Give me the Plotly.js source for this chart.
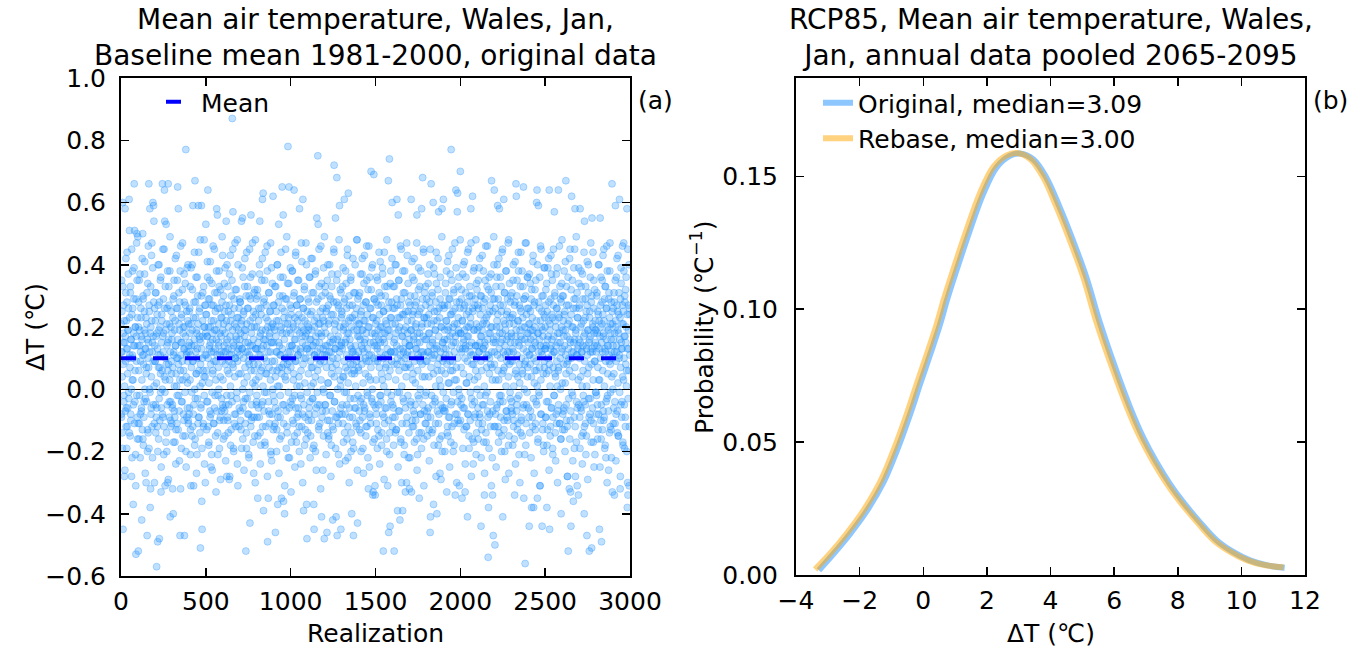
<!DOCTYPE html>
<html><head><meta charset="utf-8">
<script src="https://cdn.plot.ly/plotly-3.0.1.min.js"></script>
<style>html,body{margin:0;padding:0;background:#fff;overflow:hidden;} #chart{width:1365px;height:648px;}</style>
</head><body><div id="chart"></div>
<script>
// ---- Panel (a): temperature anomaly per realization ----
// even-numbered realizations (0, 2, 4, ...)
const anomalyEvenRealizations = [
0.21,-0.08,0.35,0.12,-0.14,0.60,-0.45,0.18,0.27,-0.02,-0.28,0.15,0.58,-0.07,0.31,-0.12,0.22,-0.19,0.44,0.13,-0.06,0.19,0.26,-0.03,0.61,0.51,0.11,-0.15,0.33,-0.10,0.16,-0.28,0.24,0.03,0.38,0.10,-0.37,0.14,0.29,0.66,0.51,-0.04,0.20,-0.21,-0.53,0.17,0.47,0.50,-0.09,0.23,
0.14,-0.52,0.28,-0.16,-0.11,0.19,0.37,-0.08,0.12,0.23,-0.07,-0.42,0.16,-0.13,0.50,0.30,-0.18,0.11,-0.04,0.25,0.41,0.13,-0.03,0.18,-0.30,0.07,0.21,-0.47,-0.20,0.34,-0.14,0.15,0.66,0.27,0.00,0.58,-0.38,-0.32,0.20,-0.06,0.43,0.47,0.12,-0.22,0.60,0.17,0.59,0.54,-0.11,0.26,
0.09,0.22,-0.05,0.31,-0.09,-0.57,0.18,-0.12,-0.49,0.27,0.11,-0.16,0.40,-0.48,0.07,0.20,0.35,-0.01,-0.33,-0.06,0.24,0.06,0.66,0.17,-0.09,0.29,-0.21,0.45,0.64,0.54,-0.31,0.03,0.19,0.53,-0.14,-0.20,0.26,-0.30,0.15,0.66,0.08,0.33,-0.04,0.21,0.38,-0.41,-0.10,-0.12,0.25,0.05,
0.16,-0.06,-0.32,0.23,-0.40,0.11,0.30,-0.07,0.19,-0.17,0.42,0.14,-0.13,0.26,0.01,-0.11,0.35,0.65,0.10,0.58,-0.02,0.21,-0.23,0.28,-0.47,0.06,0.46,0.15,-0.19,0.24,-0.04,0.32,0.03,0.18,-0.08,0.13,0.37,-0.47,0.20,-0.15,0.27,0.77,-0.25,0.11,-0.09,0.39,0.02,0.22,-0.10,0.14,
0.12,0.25,-0.06,0.18,0.33,-0.13,-0.31,0.21,0.14,-0.15,0.40,0.09,0.59,-0.08,-0.31,0.28,0.16,-0.18,0.67,-0.03,0.23,0.36,0.05,0.19,-0.21,0.13,0.30,-0.11,0.59,0.44,-0.09,0.17,0.26,0.01,-0.51,0.15,-0.05,0.59,-0.36,-0.45,0.10,0.31,0.06,-0.12,0.20,0.48,-0.24,0.27,0.04,0.18,
0.53,0.11,0.24,-0.04,0.17,0.36,0.64,-0.12,0.20,-0.17,0.13,0.29,-0.07,0.41,0.15,-0.08,0.22,-0.21,0.34,-0.26,0.18,0.06,0.27,0.12,-0.11,0.45,0.19,-0.02,0.25,0.09,-0.33,0.16,0.58,0.31,0.56,-0.14,-0.02,0.21,0.14,0.38,-0.19,0.26,0.11,-0.09,0.32,0.17,-0.07,0.23,0.49,-0.05,
0.19,-0.06,0.30,-0.10,0.14,0.25,-0.15,0.39,0.12,-0.05,0.54,0.22,-0.28,0.16,-0.09,0.33,-0.14,0.20,0.05,-0.29,0.27,0.11,0.43,-0.18,-0.02,0.24,0.13,0.35,0.87,0.08,0.57,0.15,-0.20,0.29,-0.11,0.21,0.47,0.10,-0.08,0.17,0.32,-0.03,0.23,-0.24,0.12,0.40,0.19,-0.12,0.26,0.14,
0.11,0.28,-0.07,0.18,-0.13,0.54,0.22,0.13,0.55,-0.16,0.36,-0.04,0.25,0.02,0.19,0.42,-0.11,0.15,-0.52,0.30,-0.19,0.21,-0.03,0.33,0.12,0.26,-0.08,-0.22,0.08,0.45,-0.43,0.14,0.29,0.56,-0.10,0.20,-0.09,0.37,0.10,0.23,0.16,-0.27,0.31,0.06,-0.15,0.01,0.48,0.24,0.13,-0.05,
0.20,-0.09,0.32,-0.35,0.15,-0.06,0.26,0.11,0.40,0.54,-0.14,0.18,-0.18,0.24,0.13,0.35,0.07,0.61,-0.04,0.63,-0.39,0.16,0.29,-0.01,-0.17,0.44,0.19,-0.12,0.27,0.05,0.14,0.38,-0.49,0.22,-0.35,-0.07,0.31,0.17,-0.08,0.25,0.12,0.47,-0.21,0.20,-0.23,0.15,0.34,0.06,0.62,-0.02,
0.15,0.27,-0.04,0.19,-0.11,-0.46,0.33,0.12,0.22,-0.13,0.06,0.40,-0.37,-0.07,0.28,0.53,0.01,0.14,-0.16,-0.09,0.36,0.11,0.20,-0.35,0.07,0.65,0.18,0.30,0.56,-0.36,-0.05,0.25,-0.40,0.04,0.21,0.45,0.10,-0.19,0.29,-0.12,0.08,0.34,0.78,-0.22,0.23,0.65,-0.06,0.19,0.12,0.39,
0.18,-0.33,0.26,-0.05,0.14,0.38,-0.10,0.21,0.03,0.30,0.64,-0.15,-0.02,0.23,0.16,0.44,0.09,-0.17,0.27,-0.09,0.19,0.35,0.11,-0.06,0.24,-0.12,0.58,0.01,0.29,0.13,-0.24,0.20,-0.03,0.41,0.17,-0.08,0.61,0.26,-0.39,0.10,0.32,-0.18,0.22,-0.13,0.14,0.47,0.18,-0.37,-0.48,0.25,
0.13,0.29,-0.10,0.20,-0.08,0.36,0.16,-0.04,0.24,-0.15,0.42,0.07,0.19,0.31,-0.03,0.14,-0.19,0.02,-0.37,-0.45,0.22,0.11,0.37,-0.20,0.17,-0.06,0.28,0.55,0.12,-0.05,0.75,0.53,0.21,-0.13,0.33,0.15,-0.11,0.25,0.09,0.46,0.18,-0.41,0.30,-0.07,0.23,-0.26,0.13,0.39,-0.01,-0.48,
0.20,-0.05,0.31,0.14,-0.07,0.25,0.11,-0.46,0.35,-0.14,0.02,0.27,-0.16,0.22,-0.10,0.40,0.15,-0.02,0.29,0.12,-0.18,0.33,0.07,-0.12,-0.42,0.24,0.16,0.45,0.72,-0.04,0.21,0.13,0.55,-0.09,-0.41,0.28,0.68,-0.47,0.10,0.37,0.17,-0.21,0.26,-0.08,0.59,0.14,0.32,0.01,-0.45,0.23,
0.15,0.24,-0.05,0.33,-0.11,0.19,0.04,0.28,0.61,-0.14,0.21,-0.08,0.38,0.16,-0.01,0.26,-0.16,0.43,0.06,-0.22,0.63,0.18,0.30,-0.06,-0.09,0.23,0.14,0.35,-0.20,0.20,-0.40,0.12,0.27,-0.17,0.08,-0.47,0.31,-0.03,0.05,0.24,0.40,0.11,-0.06,0.22,-0.12,0.48,0.19,-0.43,0.29,0.07,
0.12,0.30,-0.07,0.21,-0.10,0.16,0.37,-0.14,0.25,-0.03,0.19,0.42,0.13,-0.19,0.27,-0.05,0.34,0.15,-0.07,0.22,0.10,0.28,-0.12,0.18,0.46,-0.12,0.24,-0.02,0.32,-0.32,0.09,0.20,-0.25,0.36,-0.09,0.03,0.26,0.70,0.11,0.39,-0.04,0.23,-0.34,-0.33,0.15,0.69,0.29,-0.16,0.18,-0.34,
0.17,-0.06,0.28,-0.08,0.22,0.13,0.35,-0.13,0.19,0.10,-0.15,0.31,0.24,-0.02,0.41,0.15,-0.04,0.27,-0.18,0.20,0.03,0.37,0.16,-0.52,0.25,-0.09,0.44,-0.11,0.18,0.30,0.07,0.21,-0.06,-0.20,0.33,0.11,-0.31,0.26,0.67,-0.46,0.19,0.74,-0.14,-0.44,0.23,0.38,0.12,-0.02,0.28,0.60,
0.21,-0.09,0.33,-0.06,0.15,-0.52,0.26,0.12,0.40,-0.14,0.18,-0.13,0.29,0.61,0.08,-0.39,0.23,0.56,-0.07,0.35,-0.01,0.20,-0.42,0.11,0.27,-0.17,0.45,-0.30,0.17,0.24,-0.39,0.13,0.31,-0.04,0.19,-0.18,0.38,0.10,-0.33,0.25,0.07,-0.11,0.47,-0.09,0.22,0.12,0.34,-0.22,0.28,0.14,
-0.32,0.14,0.27,-0.05,0.19,0.61,-0.33,0.22,-0.10,0.36,0.03,0.25,-0.12,0.17,0.42,-0.08,0.30,-0.05,0.20,0.13,0.28,-0.16,0.56,0.15,-0.21,0.24,0.11,0.39,-0.03,-0.35,0.18,0.33,0.09,-0.08,0.26,-0.14,0.58,0.21,0.04,0.68,0.12,0.45,-0.16,0.23,-0.07,0.31,0.16,-0.02,0.27,-0.11,
0.16,0.29,-0.07,0.21,-0.09,0.34,0.12,0.24,-0.13,0.18,0.40,-0.46,-0.41,0.26,0.66,0.11,-0.14,0.30,0.15,-0.05,0.60,-0.37,0.22,0.13,0.37,-0.03,0.19,-0.11,0.28,0.44,0.14,-0.40,0.25,0.06,0.32,-0.18,0.57,-0.08,0.10,0.23,-0.27,0.36,0.01,-0.29,0.20,-0.15,0.58,0.27,-0.06,0.15,
0.61,0.13,0.26,-0.06,0.19,-0.07,0.31,0.11,0.22,0.38,-0.33,0.16,-0.12,0.27,-0.15,0.20,0.43,0.02,-0.09,0.29,0.09,0.24,-0.17,0.77,-0.04,0.35,0.18,0.06,0.25,-0.20,0.15,0.32,-0.11,0.21,0.47,-0.34,0.17,0.64,0.03,0.28,-0.08,0.57,0.63,-0.10,0.23,0.19,0.36,-0.31,-0.02,0.26,
0.70,0.18,-0.05,0.29,0.12,-0.35,0.22,0.37,-0.06,0.15,0.26,-0.13,0.41,0.19,-0.33,0.13,0.31,-0.12,0.24,0.02,0.17,-0.41,0.28,-0.08,0.45,0.20,-0.19,0.14,0.33,-0.10,0.23,0.58,0.11,-0.03,0.30,-0.16,0.62,0.25,-0.24,0.08,0.19,0.39,-0.04,0.27,-0.08,0.14,0.48,0.21,-0.14,0.32,
0.14,0.27,-0.06,0.35,-0.11,0.20,0.12,0.42,-0.09,0.24,0.17,-0.44,0.30,-0.13,0.19,-0.05,0.26,0.13,0.38,-0.17,0.22,-0.34,0.15,0.29,-0.02,0.46,-0.17,0.21,0.11,0.33,-0.07,0.24,-0.54,-0.38,0.18,0.36,0.10,-0.08,0.27,-0.12,0.20,0.31,0.67,0.07,-0.22,-0.34,0.25,-0.47,0.16,0.40,
0.64,0.12,-0.50,0.26,-0.08,0.33,0.17,-0.06,0.22,0.40,0.59,-0.12,0.29,0.03,-0.14,0.58,0.20,-0.04,0.36,0.15,-0.02,0.25,-0.15,0.44,0.18,-0.41,0.27,0.06,0.61,-0.10,0.31,-0.20,0.21,0.11,0.38,-0.07,0.24,0.16,-0.09,0.29,0.12,0.47,-0.18,-0.27,0.08,0.34,0.23,-0.03,0.15,0.30,
0.18,-0.07,0.31,0.13,-0.08,0.24,0.40,-0.12,0.21,-0.16,-0.34,0.28,0.05,0.17,0.66,0.62,-0.05,0.35,-0.03,0.22,-0.11,0.44,0.15,-0.21,0.27,0.02,0.19,0.33,-0.14,0.25,-0.10,0.16,0.38,0.06,0.23,-0.06,0.65,-0.35,0.29,0.08,0.20,-0.56,0.30,-0.18,0.47,-0.05,0.18,0.26,0.04,0.36,
0.15,0.26,-0.09,-0.44,0.21,0.11,0.34,-0.07,0.19,0.29,-0.38,0.13,0.23,-0.12,0.41,0.17,-0.38,0.27,0.02,0.20,0.32,-0.13,0.14,-0.04,0.06,0.60,0.64,-0.35,0.18,-0.16,0.59,0.28,-0.02,0.16,0.36,-0.31,0.22,-0.08,0.45,0.12,0.25,-0.44,0.19,-0.11,0.30,-0.18,0.14,0.39,0.07,0.23,
0.20,-0.09,0.32,0.14,-0.04,-0.38,0.25,-0.13,0.39,0.17,0.06,0.28,0.64,-0.45,0.21,-0.15,0.13,0.43,-0.06,0.24,0.16,0.35,-0.19,-0.09,0.27,0.12,-0.02,0.57,0.30,0.05,0.22,-0.23,0.14,0.37,-0.11,0.26,0.01,0.18,-0.07,0.64,0.07,0.23,0.46,-0.11,0.15,0.29,-0.16,-0.40,0.20,0.34,
0.13,0.30,-0.08,0.22,-0.07,0.17,0.38,-0.13,0.25,0.02,0.19,0.67,-0.05,0.33,0.08,-0.12,-0.28,0.21,-0.52,0.27,0.10,-0.32,0.42,0.16,-0.10,-0.33,-0.44,0.24,0.62,0.12,0.35,-0.02,0.20,-0.36,0.15,0.29,-0.19,0.45,0.58,-0.28,0.18,0.26,-0.17,0.11,0.31,-0.06,0.23,0.14,-0.34,0.39,
0.16,0.27,-0.09,0.58,0.20,-0.06,0.33,0.12,-0.15,0.01,0.37,0.14,-0.14,0.22,-0.04,-0.40,0.54,0.18,0.29,-0.11,-0.21,0.25,0.13,-0.47,0.41,0.05,0.19,0.31,-0.03,0.15,-0.52,0.23,-0.08,0.36,0.17,-0.10,0.28,-0.51,0.55,0.12,0.21,0.44,-0.17,0.26,-0.25,0.14,0.32,0.09,0.19,-0.01,
0.19,-0.08,0.30,0.14,-0.05,0.25,-0.13,0.40,0.03,0.22,-0.45,0.17,0.55,0.27,-0.10,-0.16,-0.49,0.21,0.35,0.12,0.24,-0.07,0.18,0.45,-0.09,0.29,0.13,-0.18,0.33,-0.22,0.16,0.26,-0.03,0.38,-0.02,0.20,0.14,-0.26,0.31,0.09,0.23,0.47,-0.12,0.18,-0.13,0.28,0.12,0.66,-0.33,0.21,
0.14,0.26,-0.06,0.31,-0.34,0.18,-0.11,0.59,0.22,-0.08,0.36,0.12,0.27,-0.14,0.19,0.43,-0.15,0.24,0.10,0.61,0.16,-0.32,0.29,-0.05,0.34,0.13,-0.04,0.21,0.46,-0.17,0.25,0.03,0.38,0.17,-0.19,0.28,-0.09,0.32,0.15,0.20,0.06,0.58,-0.38,-0.30,-0.34,0.27,0.13,0.40,-0.12,0.24
];
// odd-numbered realizations (1, 3, 5, ...)
const anomalyOddRealizations = [
0.12,-0.09,0.25,0.04,-0.19,0.33,0.08,0.15,-0.04,0.22,0.01,-0.26,0.17,0.09,0.42,-0.06,0.13,0.28,-0.12,0.05,0.19,0.37,-0.01,0.10,-0.14,0.23,0.07,0.31,-0.08,0.16,0.00,0.45,-0.22,0.11,0.26,0.03,-0.05,0.18,0.39,-0.11,0.14,0.06,0.20,-0.31,0.29,0.09,-0.02,0.35,-0.16,0.49,
-0.11,0.20,0.06,0.35,-0.02,0.14,-0.22,0.09,0.26,0.17,-0.06,0.03,0.42,0.11,-0.16,0.29,0.08,-0.09,0.19,0.37,0.00,-0.27,0.13,0.23,0.05,-0.04,0.31,0.16,-0.13,0.10,0.46,0.07,-0.19,0.25,0.12,-0.01,0.18,0.33,-0.08,0.04,0.22,-0.12,0.15,0.39,0.09,-0.05,0.28,0.01,-0.30,0.14,
0.09,0.31,-0.14,0.17,0.02,-0.06,0.24,0.13,-0.20,0.40,0.07,0.19,-0.03,0.28,-0.10,0.11,0.05,0.36,-0.25,0.15,0.22,0.00,-0.08,0.45,0.12,0.18,-0.12,0.04,0.26,-0.01,0.33,0.10,-0.17,0.08,0.21,0.14,-0.05,0.38,0.06,-0.29,0.16,0.27,-0.09,0.03,0.49,0.12,-0.04,0.20,0.09,-0.11,
0.18,-0.05,0.07,0.29,-0.17,0.12,0.35,0.01,-0.09,0.22,0.14,-0.24,0.05,0.43,0.10,-0.02,0.26,0.16,-0.13,0.08,0.31,-0.07,0.19,0.03,0.38,-0.32,0.11,0.23,-0.04,0.15,0.09,0.47,-0.15,0.20,0.06,-0.10,0.28,0.13,-0.01,0.34,0.17,-0.20,0.04,0.25,0.12,-0.06,0.09,0.40,-0.11,0.21,
-0.08,0.15,0.26,0.03,-0.21,0.11,0.39,0.07,-0.01,0.19,0.32,-0.12,0.09,0.23,-0.05,0.14,0.44,0.00,-0.16,0.28,0.12,0.05,-0.27,0.18,0.36,-0.03,0.10,0.21,-0.09,0.06,0.25,0.16,-0.14,0.48,0.08,-0.06,0.30,0.13,-0.19,0.02,0.22,0.17,-0.11,0.33,0.04,-0.02,0.20,0.11,-0.30,0.27,
0.24,0.06,-0.13,0.17,0.41,-0.04,0.10,0.29,-0.18,0.02,0.14,0.35,-0.09,0.20,0.08,-0.25,0.12,0.27,-0.01,0.16,0.05,0.46,-0.11,0.22,0.09,-0.06,0.31,0.13,-0.15,0.03,0.19,0.38,-0.07,0.11,0.26,-0.21,0.07,0.15,0.00,0.33,-0.10,0.18,0.04,-0.29,0.23,0.12,-0.03,0.28,0.09,0.43,
0.03,-0.16,0.21,0.12,0.34,-0.07,0.18,0.08,-0.23,0.27,0.15,-0.02,0.40,0.06,-0.10,0.13,0.25,-0.05,0.09,0.37,-0.28,0.17,0.01,0.22,-0.13,0.30,0.11,-0.04,0.19,0.45,0.07,-0.19,0.14,0.26,-0.08,0.04,0.32,0.10,-0.12,0.20,0.16,-0.01,0.48,0.09,-0.31,0.23,0.13,0.05,-0.06,0.29,
0.16,0.28,-0.10,0.05,0.21,-0.19,0.13,0.39,0.00,-0.06,0.24,0.10,-0.26,0.17,0.33,0.07,-0.03,0.19,0.12,-0.14,0.44,0.04,0.26,-0.08,0.15,0.09,-0.21,0.30,0.11,-0.01,0.22,0.36,-0.12,0.06,0.18,-0.05,0.14,0.47,0.02,-0.17,0.25,0.08,-0.09,0.20,0.32,-0.30,0.13,0.03,0.29,-0.04,
-0.02,0.13,0.30,-0.15,0.08,0.22,0.04,-0.09,0.37,0.17,-0.24,0.11,0.26,0.06,-0.05,0.19,0.42,-0.12,0.01,0.14,0.28,-0.07,0.10,0.35,-0.18,0.16,0.05,0.23,-0.01,0.09,0.46,-0.28,0.20,0.12,-0.04,0.31,0.07,-0.11,0.18,0.25,0.03,-0.20,0.15,0.39,-0.08,0.09,0.21,0.00,-0.13,0.27,
0.20,-0.12,0.09,0.33,0.04,-0.06,0.17,0.25,-0.20,0.12,0.40,0.01,-0.09,0.22,0.15,-0.27,0.07,0.30,0.11,-0.02,0.19,0.44,-0.15,0.05,0.26,0.13,-0.05,0.36,0.08,-0.11,0.23,0.16,-0.31,0.10,0.29,0.03,-0.07,0.18,0.49,-0.14,0.06,0.21,0.12,-0.01,0.34,0.09,-0.22,0.14,0.27,-0.04,
0.07,0.24,-0.17,0.14,0.38,-0.03,0.10,0.20,-0.11,0.05,0.31,0.16,-0.25,0.09,0.43,-0.06,0.13,0.27,0.01,-0.14,0.22,0.11,-0.08,0.35,0.04,-0.20,0.18,0.29,-0.02,0.12,0.06,0.47,-0.12,0.23,0.15,-0.30,0.08,0.26,-0.05,0.19,0.33,0.02,-0.09,0.17,0.10,-0.16,0.40,0.13,-0.01,0.21,
-0.14,0.19,0.05,0.28,-0.06,0.12,0.36,-0.22,0.09,0.16,0.01,-0.10,0.25,0.42,0.07,-0.03,0.14,0.31,-0.18,0.11,0.20,-0.08,0.04,0.38,0.15,-0.26,0.10,0.23,-0.01,0.06,0.29,0.18,-0.12,0.45,0.08,-0.05,0.21,0.13,-0.32,0.03,0.34,0.17,-0.09,0.11,0.26,0.00,-0.15,0.22,0.09,0.49,
0.11,0.33,-0.05,0.18,-0.21,0.07,0.26,0.14,-0.10,0.40,0.02,0.21,-0.15,0.12,0.30,-0.02,0.09,0.17,-0.28,0.24,0.05,0.37,-0.07,0.15,0.10,-0.13,0.28,0.44,0.04,-0.04,0.19,0.13,-0.19,0.22,0.08,0.35,-0.09,0.16,0.00,0.27,-0.11,0.06,0.48,0.12,-0.24,0.20,0.03,-0.06,0.31,0.14,
0.25,-0.08,0.13,0.04,0.39,-0.17,0.20,0.09,-0.01,0.29,0.15,-0.23,0.07,0.34,0.11,-0.05,0.18,0.45,-0.12,0.02,0.22,0.10,-0.30,0.27,0.16,-0.03,0.08,0.36,-0.14,0.13,0.05,0.23,-0.09,0.42,0.12,-0.19,0.19,0.06,-0.06,0.31,0.14,0.01,-0.11,0.26,0.09,0.48,-0.26,0.17,-0.02,0.21,
0.06,0.17,-0.13,0.31,0.10,-0.04,0.24,-0.20,0.14,0.08,0.37,-0.09,0.19,0.02,-0.27,0.22,0.12,0.43,-0.06,0.16,0.05,-0.15,0.28,0.09,0.35,-0.01,0.13,-0.22,0.20,0.04,0.46,0.11,-0.08,0.26,0.15,-0.11,0.07,0.32,-0.03,0.18,0.00,0.40,-0.17,0.23,0.10,-0.05,0.29,0.14,-0.31,0.09,
0.21,0.03,-0.11,0.36,0.14,-0.19,0.09,0.27,-0.05,0.16,0.44,0.07,-0.24,0.12,0.20,-0.02,0.30,0.05,-0.14,0.18,0.39,-0.08,0.10,0.25,0.01,-0.29,0.15,0.33,-0.06,0.11,0.22,0.08,-0.16,0.48,0.13,-0.01,0.19,0.04,-0.10,0.28,0.17,-0.21,0.06,0.34,0.12,-0.04,0.23,0.09,0.42,-0.12,
-0.05,0.26,0.12,-0.18,0.08,0.33,0.16,-0.09,0.21,0.03,0.40,-0.13,0.14,0.27,-0.01,0.10,-0.25,0.19,0.35,0.06,-0.07,0.23,0.13,0.46,-0.16,0.09,0.29,0.01,-0.11,0.17,0.38,-0.03,0.12,0.24,-0.21,0.07,0.31,0.15,-0.06,0.20,0.04,-0.30,0.11,0.43,0.18,-0.02,0.25,0.08,-0.14,0.16,
0.14,-0.22,0.30,0.07,-0.04,0.19,0.11,0.41,-0.12,0.24,0.05,-0.07,0.16,0.35,-0.17,0.09,0.27,0.02,-0.10,0.21,0.13,0.47,-0.26,0.18,0.06,-0.02,0.32,0.10,-0.14,0.25,0.15,0.00,-0.08,0.38,0.12,-0.19,0.20,0.08,0.29,-0.05,0.17,0.44,-0.31,0.11,0.23,0.04,-0.11,0.33,0.09,-0.01,
0.23,0.09,-0.15,0.12,0.37,-0.06,0.18,0.04,-0.23,0.28,0.14,0.45,-0.09,0.07,0.21,-0.02,0.31,0.16,-0.13,0.10,0.05,0.39,-0.18,0.25,0.11,-0.04,0.19,0.01,-0.28,0.34,0.13,0.22,-0.07,0.08,0.42,-0.11,0.17,0.26,0.03,-0.16,0.29,0.12,-0.05,0.20,0.06,0.49,-0.20,0.15,0.09,-0.01,
0.10,-0.07,0.27,0.16,-0.20,0.05,0.34,0.13,-0.03,0.22,0.08,-0.14,0.41,0.19,0.02,-0.09,0.29,0.11,-0.25,0.17,0.37,0.06,-0.05,0.24,0.14,-0.12,0.45,0.09,0.20,-0.01,0.31,-0.18,0.12,0.03,0.26,-0.08,0.15,0.39,0.07,-0.30,0.21,0.10,-0.04,0.33,0.18,0.00,-0.11,0.28,0.13,0.48,
-0.10,0.18,0.07,0.32,-0.03,0.22,0.13,-0.19,0.40,0.05,0.16,-0.06,0.27,0.10,-0.24,0.14,0.36,0.02,-0.12,0.20,0.09,0.44,-0.08,0.17,0.25,-0.15,0.04,0.30,0.12,-0.01,0.21,0.47,-0.28,0.15,0.08,-0.05,0.26,0.11,0.38,-0.17,0.19,0.03,-0.09,0.29,0.14,0.06,-0.21,0.34,0.10,0.00,
0.19,0.04,-0.16,0.26,0.12,0.39,-0.08,0.15,-0.02,0.30,0.09,-0.22,0.17,0.06,0.43,-0.11,0.21,0.13,-0.05,0.28,0.01,-0.27,0.14,0.35,0.10,-0.14,0.23,0.07,-0.01,0.46,0.16,-0.09,0.11,0.32,-0.19,0.05,0.25,0.18,-0.04,0.08,0.37,-0.31,0.12,0.20,0.03,-0.07,0.29,0.15,0.49,-0.12,
0.08,0.29,-0.12,0.15,0.03,-0.25,0.20,0.36,-0.05,0.11,0.24,0.06,-0.17,0.42,0.13,-0.02,0.18,0.27,-0.09,0.10,0.33,-0.20,0.05,0.16,0.45,-0.04,0.12,0.22,-0.13,0.07,0.31,0.14,-0.29,0.19,0.01,0.38,-0.07,0.09,0.25,-0.10,0.17,0.04,0.48,-0.15,0.21,0.12,-0.01,0.28,0.09,-0.06,
0.17,-0.04,0.23,0.09,-0.18,0.35,0.12,0.01,-0.10,0.27,0.15,0.41,-0.24,0.06,0.19,-0.07,0.30,0.11,-0.13,0.04,0.22,0.38,-0.02,0.14,0.08,-0.30,0.26,0.17,0.44,-0.09,0.10,0.20,-0.15,0.05,0.33,0.13,-0.05,0.29,0.00,-0.21,0.16,0.47,0.09,-0.11,0.24,0.12,-0.01,0.36,0.07,0.18,
-0.06,0.21,0.11,0.37,-0.14,0.08,0.25,0.16,-0.22,0.04,0.32,0.13,-0.09,0.19,0.43,-0.03,0.10,-0.27,0.28,0.06,0.15,-0.11,0.35,0.09,0.22,-0.05,0.01,0.40,-0.17,0.18,0.12,-0.01,0.26,0.07,-0.31,0.14,0.46,0.03,-0.08,0.20,0.30,0.11,-0.13,0.17,0.05,-0.20,0.24,0.09,0.39,0.13,
0.13,0.27,-0.09,0.05,0.34,-0.18,0.16,0.10,-0.04,0.22,0.42,-0.26,0.08,0.19,0.01,-0.12,0.29,0.14,0.37,-0.06,0.11,0.23,-0.21,0.07,0.45,0.17,-0.02,0.12,0.31,-0.14,0.04,0.20,-0.08,0.26,0.09,0.39,-0.30,0.15,0.06,-0.05,0.24,0.18,-0.11,0.33,0.10,0.00,-0.16,0.28,0.12,0.48,
0.02,-0.13,0.19,0.30,0.08,-0.06,0.24,0.14,-0.20,0.41,0.11,0.05,-0.10,0.27,0.17,-0.28,0.09,0.36,0.13,-0.03,0.22,0.06,-0.16,0.45,0.15,-0.07,0.32,0.10,-0.01,0.20,0.04,-0.23,0.26,0.12,0.39,-0.09,0.16,0.07,-0.12,0.29,0.19,0.49,-0.04,0.11,-0.31,0.23,0.13,0.03,-0.05,0.34,
0.26,0.10,-0.19,0.15,0.04,0.38,-0.07,0.21,0.12,-0.24,0.29,0.06,-0.02,0.17,0.44,-0.12,0.09,0.23,-0.05,0.33,0.14,-0.15,0.01,0.27,0.11,-0.29,0.19,0.40,0.07,-0.09,0.16,0.25,-0.03,0.12,0.47,-0.17,0.08,0.30,0.13,-0.06,0.20,0.03,-0.11,0.35,0.18,0.09,-0.21,0.22,0.15,-0.01,
0.12,-0.02,0.31,0.18,-0.16,0.07,0.24,-0.08,0.40,0.13,0.03,-0.25,0.20,0.10,0.36,-0.05,0.15,0.28,-0.13,0.06,0.43,0.17,-0.10,0.22,0.01,-0.19,0.33,0.12,0.09,-0.04,0.26,0.46,-0.30,0.14,0.05,0.19,-0.07,0.29,0.11,-0.14,0.38,0.08,-0.01,0.21,0.16,-0.22,0.04,0.25,0.10,0.00,
-0.11,0.16,0.05,0.28,0.12,-0.04,0.35,0.20,-0.23,0.09,0.14,0.42,-0.07,0.25,0.02,-0.15,0.18,0.31,0.11,-0.01,0.23,-0.28,0.07,0.39,0.15,-0.09,0.13,0.27,0.04,-0.18,0.21,0.47,0.10,-0.05,0.30,0.17,-0.12,0.08,0.36,0.01,-0.20,0.24,0.13,0.45,-0.03,0.19,0.06,-0.31,0.26,0.11
];
const meanValue = 0.10;             // dashed "Mean" line
const realizationExtent = [0, 3000];

// ---- Panel (b): pooled probability density curves ----
const originalX = [-3.28,-2.82,-2.30,-1.77,-1.25,-0.83,-0.41,-0.10,0.22,0.53,0.74,1.04,1.46,1.88,2.30,2.72,3.04,3.46,3.87,4.29,4.71,5.13,5.55,6.07,6.50,6.91,7.33,7.75,8.17,8.70,9.22,9.74,10.27,10.79,11.36];
const originalY = [0.0018,0.0080,0.0155,0.0242,0.0349,0.0468,0.0606,0.0718,0.0831,0.0944,0.1032,0.1145,0.1295,0.1433,0.1533,0.1577,0.1586,0.1564,0.1495,0.1383,0.1257,0.1119,0.0950,0.0768,0.0631,0.0518,0.0424,0.0343,0.0274,0.0198,0.0131,0.0087,0.0055,0.0037,0.0027];
const rebaseX = [-3.40,-2.92,-2.40,-1.87,-1.35,-0.93,-0.51,-0.20,0.12,0.43,0.64,0.94,1.36,1.78,2.20,2.62,2.94,3.36,3.77,4.19,4.61,5.03,5.45,5.97,6.40,6.81,7.23,7.65,8.07,8.60,9.12,9.64,10.17,10.69,11.32];
const rebaseY = [0.0021,0.0082,0.0157,0.0244,0.0351,0.0470,0.0608,0.0720,0.0833,0.0946,0.1034,0.1147,0.1297,0.1435,0.1535,0.1579,0.1588,0.1566,0.1497,0.1385,0.1259,0.1121,0.0950,0.0770,0.0633,0.0520,0.0426,0.0345,0.0276,0.0200,0.0132,0.0088,0.0056,0.0038,0.0029];
const originalMedian = "3.09";
const rebaseMedian = "3.00";

// ---- tick labels ----
const leftXTicks = [0,500,1000,1500,2000,2500,3000];
const leftYTicks = [-0.6,-0.4,-0.2,0.0,0.2,0.4,0.6,0.8,1.0];
const rightXTicks = [-4,-2,0,2,4,6,8,10,12];
const rightYTicks = [0.00,0.05,0.10,0.15];

const W = 1365, H = 648;
const fx = p => p / W;
const fy = p => 1 - p / H;
const FONT = "DejaVu Sans, Verdana, sans-serif";
const TICK = 25;

const scatterX = anomalyEvenRealizations.map((_, i) => 2 * i)
  .concat(anomalyOddRealizations.map((_, i) => 2 * i + 1));
const scatterY = anomalyEvenRealizations.concat(anomalyOddRealizations);

const traces = [
  { type: 'scatter', mode: 'markers', x: scatterX, y: scatterY, xaxis: 'x', yaxis: 'y',
    marker: { size: 7, color: 'rgba(30,144,255,0.28)', line: { color: 'rgba(30,144,255,0.3)', width: 1 } },
    showlegend: false, hoverinfo: 'skip' },
  { type: 'scatter', mode: 'lines', x: realizationExtent, y: [meanValue, meanValue], xaxis: 'x', yaxis: 'y',
    line: { color: '#0000ff', width: 4, dash: '15px,17px' }, name: 'Mean', legend: 'legend' },
  { type: 'scatter', mode: 'lines', x: originalX, y: originalY, xaxis: 'x2', yaxis: 'y2',
    line: { color: 'rgba(30,144,255,0.5)', width: 6, shape: 'spline', smoothing: 1 },
    name: 'Original, median=' + originalMedian, legend: 'legend2' },
  { type: 'scatter', mode: 'lines', x: rebaseX, y: rebaseY, xaxis: 'x2', yaxis: 'y2',
    line: { color: 'rgba(255,165,0,0.5)', width: 6, shape: 'spline', smoothing: 1 },
    name: 'Rebase, median=' + rebaseMedian, legend: 'legend2' }
];

const axisCommon = {
  showline: true, linecolor: '#000', linewidth: 2, mirror: 'ticks',
  ticks: 'inside', ticklen: 8, tickwidth: 1.5, tickcolor: '#000',
  showgrid: false, zeroline: false, automargin: false,
  tickfont: { family: FONT, size: TICK, color: '#000' }
};

const legendCommon = { xanchor: 'left', yanchor: 'top', bgcolor: 'rgba(0,0,0,0)', borderwidth: 0,
  font: { family: FONT, size: TICK, color: '#000' }, xref: 'paper', yref: 'paper' };

const ann = (text, x, y, extra) => Object.assign({ text, x: fx(x), y: fy(y), xref: 'paper', yref: 'paper',
  showarrow: false, xanchor: 'center', yanchor: 'middle', font: { family: FONT, size: TICK, color: '#000' } }, extra || {});

const layout = {
  width: W, height: H, margin: { l: 0, r: 0, t: 0, b: 0 },
  paper_bgcolor: '#fff', plot_bgcolor: '#fff', font: { family: FONT, color: '#000' },
  xaxis: Object.assign({}, axisCommon, { domain: [fx(121), fx(630)], range: [0, 3000], tickvals: leftXTicks, anchor: 'y', ticklabelstandoff: 2 }),
  yaxis: Object.assign({}, axisCommon, { domain: [1 - 576 / H, 1 - 78 / H], range: [-0.6, 1.0], tickvals: leftYTicks, tickformat: '.1f', anchor: 'x',
    zeroline: true, zerolinecolor: '#000', zerolinewidth: 1.5, ticklabelstandoff: 8 }),
  xaxis2: Object.assign({}, axisCommon, { domain: [fx(796), fx(1305)], range: [-4, 12], tickvals: rightXTicks, anchor: 'y2', ticklabelstandoff: 2 }),
  yaxis2: Object.assign({}, axisCommon, { domain: [1 - 575 / H, 1 - 78 / H], range: [0, 0.187], tickvals: rightYTicks, tickformat: '.2f', anchor: 'x2', ticklabelstandoff: 11 }),
  legend: Object.assign({}, legendCommon, { x: fx(161), y: fy(79) }),
  legend2: Object.assign({}, legendCommon, { x: fx(818), y: fy(80) }),
  annotations: [
    ann('Mean air temperature, Wales, Jan,<br>Baseline mean 1981-2000, original data', 375.5, 37, { font: { family: FONT, size: 28, color: '#000' } }),
    ann('RCP85, Mean air temperature, Wales,<br>Jan, annual data pooled 2065-2095', 1050.5, 37, { font: { family: FONT, size: 28, color: '#000' } }),
    ann('ΔT (℃)', 35, 327, { textangle: -90 }),
    ann('Realization', 375.5, 633),
    ann('ΔT (℃)', 1050.5, 633),
    ann('Probability (℃<sup>−1</sup>)', 702, 327, { textangle: -90 }),
    ann('(a)', 655, 100),
    ann('(b)', 1330, 100)
  ]
};

Plotly.newPlot('chart', traces, layout, { staticPlot: true, displayModeBar: false });
</script>
</body></html>
